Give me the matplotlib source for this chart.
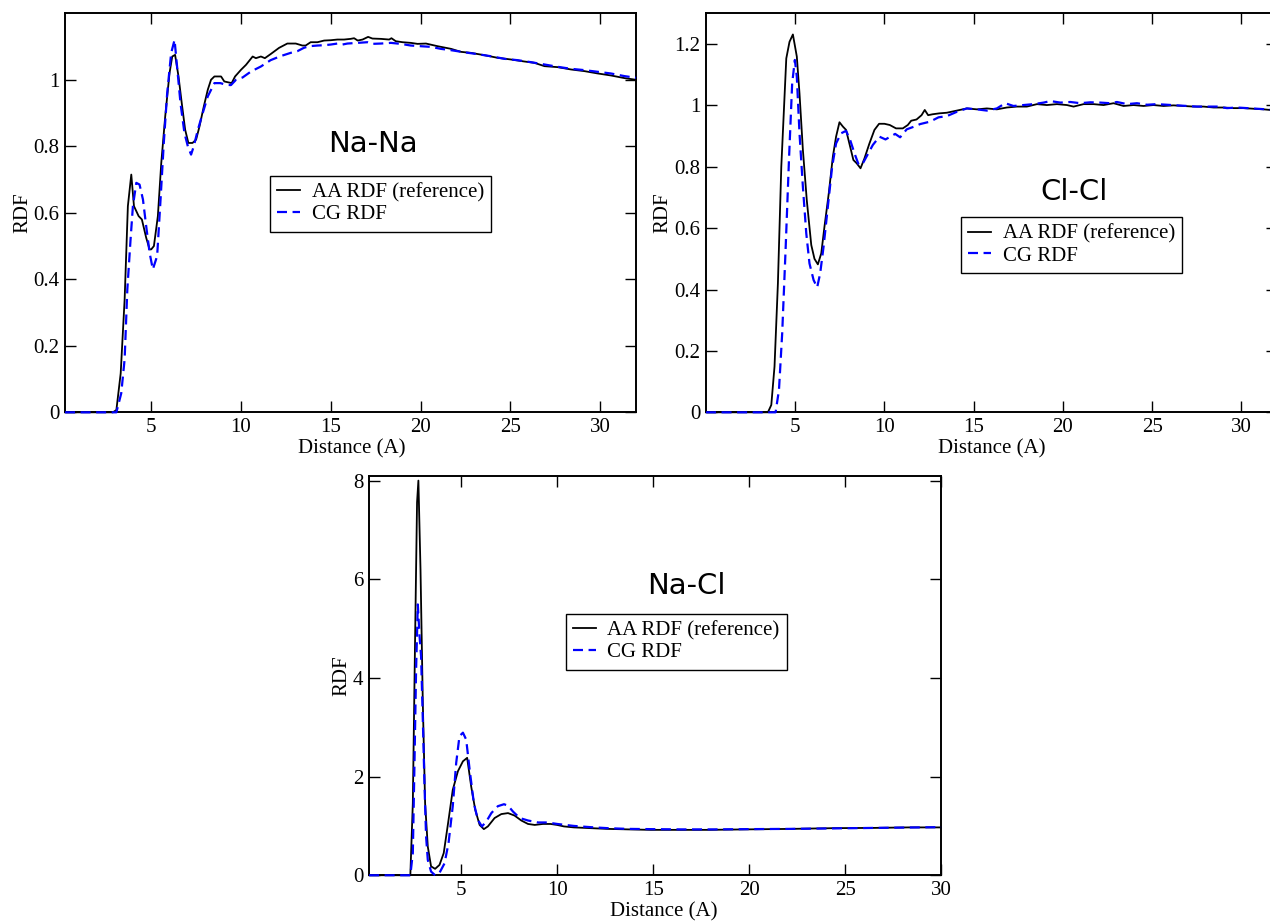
import matplotlib
matplotlib.use("Agg")
import matplotlib.pyplot as plt
from matplotlib.ticker import FormatStrFormatter

plt.rcParams['font.family'] = ['Liberation Serif', 'DejaVu Serif']
plt.rcParams['font.size'] = 15

# ---- Na-Na ----
nana_aa_x = [0.2, 2.87, 3.06, 3.3, 3.52, 3.70, 3.89, 4.04, 4.3, 4.48, 4.72, 4.91, 5.0, 5.15, 5.37,
             5.56, 5.78, 6.02, 6.17, 6.33, 6.52, 6.7, 6.89, 7.07, 7.3, 7.5, 7.69, 7.93, 8.15, 8.33,
             8.52, 8.89, 9.07, 9.48, 9.67, 10.0, 10.28, 10.65, 10.83, 11.11, 11.33, 11.67, 12.12,
             12.58, 13.05, 13.42, 13.6, 13.88, 14.26, 14.63, 15.0, 15.37, 15.74, 16.1, 16.3, 16.5,
             16.77, 17.08, 17.32, 17.8, 18.25, 18.38, 18.62, 19.0, 19.46, 19.83, 20.3, 20.95, 21.7,
             22.25, 22.8, 23.55, 24.3, 25.04, 25.78, 26.34, 26.9, 27.64, 28.38, 29.13, 29.87, 30.6,
             31.36, 32.0]
nana_aa_y = [0, 0, 0.007, 0.117, 0.34, 0.62, 0.715, 0.62, 0.59, 0.58, 0.525, 0.49, 0.49, 0.50, 0.59,
             0.75, 0.89, 1.02, 1.07, 1.075, 1.01, 0.93, 0.85, 0.81, 0.81, 0.82, 0.86, 0.92, 0.97, 1.0,
             1.01, 1.01, 0.995, 0.99, 1.01, 1.03, 1.045, 1.07, 1.065, 1.07, 1.065, 1.078, 1.096,
             1.109, 1.109, 1.103, 1.103, 1.113, 1.113, 1.118, 1.119, 1.121, 1.121, 1.123, 1.125, 1.118,
             1.121, 1.129, 1.124, 1.123, 1.121, 1.125, 1.116, 1.113, 1.111, 1.108, 1.109, 1.101, 1.093,
             1.084, 1.081, 1.074, 1.066, 1.061, 1.055, 1.051, 1.041, 1.038, 1.031, 1.026, 1.019, 1.013,
             1.005, 1.0]
nana_cg_x = [0.2, 3.06, 3.33, 3.52, 3.67, 3.85, 3.98, 4.17, 4.35, 4.54, 4.72, 4.91, 5.09, 5.33, 5.52,
             5.7, 5.89, 6.11, 6.3, 6.44, 6.63, 6.85, 7.04, 7.22, 7.37, 7.6, 7.87, 8.15, 8.52, 8.85,
             9.17, 9.44, 9.72, 10.09, 10.56, 11.11, 11.65, 12.2, 12.77, 13.14, 13.5, 13.8, 14.26,
             14.63, 15.0, 15.37, 15.65, 15.93, 16.5, 17.04, 17.3, 17.8, 18.35, 18.9, 19.46, 20.0,
             20.58, 21.13, 21.7, 22.4, 23.18, 23.9, 24.68, 25.4, 26.15, 26.9, 27.64, 28.38, 29.13,
             29.87, 30.6, 31.36, 32.0]
nana_cg_y = [0, 0, 0.057, 0.16, 0.37, 0.52, 0.62, 0.69, 0.685, 0.64, 0.56, 0.48, 0.43, 0.47, 0.64,
             0.81, 0.96, 1.08, 1.12, 1.04, 0.93, 0.84, 0.80, 0.775, 0.80, 0.85, 0.90, 0.95, 0.99, 0.99,
             0.985, 0.984, 1.0, 1.007, 1.025, 1.04, 1.059, 1.071, 1.081, 1.086, 1.096, 1.101, 1.103,
             1.104, 1.106, 1.109, 1.106, 1.109, 1.111, 1.113, 1.108, 1.109, 1.111, 1.108, 1.103, 1.101,
             1.099, 1.093, 1.089, 1.083, 1.077, 1.071, 1.063, 1.059, 1.053, 1.046, 1.039, 1.033, 1.029,
             1.024, 1.019, 1.011, 1.006]

# ---- Cl-Cl ----
clcl_aa_x = [0.0, 3.47, 3.66, 3.84, 4.03, 4.22, 4.5, 4.68, 4.87, 5.09, 5.24, 5.43, 5.65, 5.9, 6.08,
             6.27, 6.46, 6.64, 6.88, 7.11, 7.29, 7.48, 7.67, 7.85, 8.08, 8.26, 8.45, 8.66, 8.88, 9.16,
             9.44, 9.7, 10.0, 10.3, 10.65, 11.03, 11.31, 11.5, 11.8, 12.08, 12.26, 12.45, 12.7, 13.08,
             13.5, 14.06, 14.62, 15.18, 15.74, 16.3, 16.86, 17.42, 17.98, 18.55, 19.1, 19.67, 20.23,
             20.6, 21.16, 21.72, 22.28, 22.84, 23.4, 23.96, 24.52, 25.08, 25.64, 26.2, 26.77, 27.33,
             27.89, 28.45, 29.0, 29.57, 30.13, 30.69, 31.25, 31.63, 32.0]
clcl_aa_y = [0, 0, 0.024, 0.149, 0.42, 0.80, 1.153, 1.207, 1.231, 1.159, 1.039, 0.855, 0.69, 0.545, 0.50,
             0.482, 0.518, 0.605, 0.713, 0.833, 0.898, 0.945, 0.931, 0.92, 0.865, 0.822, 0.811, 0.795,
             0.827, 0.876, 0.92, 0.94, 0.94, 0.936, 0.925, 0.925, 0.936, 0.95, 0.954, 0.968, 0.985,
             0.968, 0.971, 0.974, 0.976, 0.983, 0.99, 0.987, 0.99, 0.987, 0.993, 0.996, 0.996, 1.004,
             1.001, 1.004, 1.001, 0.996, 1.004, 1.004, 1.001, 1.007, 0.998, 1.001, 0.998, 1.001, 0.998,
             1.0, 0.998, 0.996, 0.996, 0.993, 0.993, 0.991, 0.991, 0.989, 0.987, 0.985, 0.984]
clcl_cg_x = [0.0, 3.9, 4.09, 4.27, 4.46, 4.65, 4.83, 4.98, 5.09, 5.24, 5.43, 5.62, 5.8, 6.03, 6.23,
             6.4, 6.59, 6.83, 7.07, 7.29, 7.57, 7.85, 8.08, 8.32, 8.56, 8.79, 9.07, 9.35, 9.72, 10.06,
             10.6, 10.88, 11.25, 11.63, 12.0, 12.56, 13.03, 13.5, 14.06, 14.62, 15.18, 15.74, 16.3,
             16.77, 17.23, 17.79, 18.36, 18.92, 19.3, 19.86, 20.42, 20.98, 21.54, 22.1, 22.66, 23.03,
             23.6, 24.15, 24.71, 25.27, 25.83, 26.4, 26.96, 27.52, 28.08, 28.64, 29.2, 29.76, 30.32,
             30.88, 31.44, 32.0]
clcl_cg_y = [0, 0, 0.073, 0.257, 0.529, 0.822, 1.072, 1.148, 1.093, 0.909, 0.735, 0.583, 0.485, 0.431,
             0.407, 0.453, 0.54, 0.67, 0.80, 0.876, 0.909, 0.917, 0.887, 0.844, 0.806, 0.811, 0.841,
             0.871, 0.898, 0.889, 0.907, 0.896, 0.922, 0.93, 0.939, 0.947, 0.961, 0.965, 0.979, 0.99,
             0.987, 0.983, 0.99, 1.007, 0.998, 1.001, 1.004, 1.009, 1.014, 1.009, 1.011, 1.007, 1.01,
             1.009, 1.007, 1.011, 1.004, 1.007, 1.002, 1.004, 1.002, 1.0, 0.998, 0.996, 0.996, 0.996,
             0.991, 0.993, 0.991, 0.989, 0.987, 0.985]

# ---- Na-Cl ----
nacl_aa_x = [0.2, 2.35, 2.48, 2.6, 2.7, 2.77, 2.88, 3.0, 3.12, 3.26, 3.43, 3.64, 3.87, 4.09, 4.34,
             4.56, 4.83, 5.09, 5.31, 5.52, 5.73, 5.96, 6.18, 6.39, 6.74, 7.09, 7.44, 7.78, 8.13, 8.48,
             8.83, 9.26, 9.65, 10.0, 10.35, 10.87, 11.74, 12.61, 13.66, 14.88, 16.1, 17.84, 19.93,
             22.2, 24.46, 26.55, 28.3, 30.0]
nacl_aa_y = [0, 0, 1.46, 4.85, 7.56, 8.0, 6.2, 3.5, 1.46, 0.58, 0.18, 0.13, 0.21, 0.45, 1.12, 1.73,
             2.11, 2.31, 2.38, 1.80, 1.33, 1.02, 0.935, 0.99, 1.16, 1.24, 1.26, 1.21, 1.11, 1.04, 1.02,
             1.04, 1.04, 1.02, 0.99, 0.97, 0.955, 0.94, 0.93, 0.92, 0.92, 0.92, 0.93, 0.94, 0.955, 0.96,
             0.97, 0.97]
nacl_cg_x = [0.2, 2.35, 2.48, 2.56, 2.65, 2.74, 2.83, 2.91, 3.0, 3.09, 3.17, 3.26, 3.43, 3.64, 3.87,
             4.13, 4.34, 4.56, 4.74, 4.91, 5.09, 5.26, 5.44, 5.66, 5.87, 6.08, 6.31, 6.57, 6.91, 7.23,
             7.44, 7.7, 8.05, 8.48, 9.0, 9.48, 10.0, 10.87, 11.74, 12.61, 13.66, 14.88, 16.45, 18.19,
             19.93, 22.2, 24.46, 26.55, 30.0]
nacl_cg_y = [0, 0, 0.45, 2.14, 4.17, 5.49, 4.85, 4.44, 3.16, 1.8, 0.79, 0.31, 0.075, 0.0, 0.05, 0.24,
             0.65, 1.4, 2.28, 2.82, 2.89, 2.75, 2.14, 1.46, 1.12, 0.99, 1.09, 1.26, 1.40, 1.44, 1.41,
             1.29, 1.16, 1.11, 1.07, 1.07, 1.04, 1.0, 0.975, 0.955, 0.94, 0.935, 0.93, 0.93, 0.935, 0.94,
             0.95, 0.96, 0.975]

x_ticks = [5, 10, 15, 20, 25, 30]

fig = plt.figure(figsize=(12.7, 9.22), dpi=100)

panels = [
    # rect, data, xlim, ylim, yticks, title, title pos (axes), legend anchor (fig), label x positions
    ([0.0512, 0.5528, 0.4496, 0.4328], (nana_aa_x, nana_aa_y, nana_cg_x, nana_cg_y),
     (0.2, 32), (0, 1.2), [0, 0.2, 0.4, 0.6, 0.8, 1.0], "Na-Na", (0.539, 0.672),
     (0.2126, 0.8094), 0.502, -0.0744),
    ([0.5559, 0.5528, 0.4496, 0.4328], (clcl_aa_x, clcl_aa_y, clcl_cg_x, clcl_cg_y),
     (0.0, 32), (0, 1.3), [0, 0.2, 0.4, 0.6, 0.8, 1.0, 1.2], "Cl-Cl", (0.645, 0.552),
     (0.7567, 0.7646), 0.5, -0.0748),
    ([0.2906, 0.0507, 0.4504, 0.4334], (nacl_aa_x, nacl_aa_y, nacl_cg_x, nacl_cg_y),
     (0.2, 30), (0, 8.1), [0, 2, 4, 6, 8], "Na-Cl", (0.554, 0.724),
     (0.4453, 0.3344), 0.516, -0.048),
]

for rect, (ax_, ay_, cx_, cy_), xl, yl, yt, title, tpos, lpos, xlx, ylx in panels:
    ax = fig.add_axes(rect)
    ax.plot(ax_, ay_, color='black', lw=1.3, label='AA RDF (reference)', zorder=3, clip_on=False)
    ax.plot(cx_, cy_, color='blue', lw=1.6, linestyle=(0, (4.5, 2.5)), label='CG RDF',
            zorder=4, clip_on=False)
    ax.set_xlim(*xl)
    ax.set_ylim(*yl)
    ax.set_xticks(x_ticks)
    ax.set_yticks(yt)
    ax.yaxis.set_major_formatter(FormatStrFormatter('%g'))
    ax.tick_params(direction='in', top=True, right=True, length=8, width=1.0, pad=4, labelsize=15)
    for sp in ax.spines.values():
        sp.set_linewidth(1.4)
    ax.set_xlabel('Distance (A)', fontsize=15)
    ax.set_ylabel('RDF', fontsize=15)
    ax.xaxis.set_label_coords(xlx, -0.092)
    ax.xaxis.label.set_va('center')
    ax.yaxis.set_label_coords(ylx, 0.5)
    ax.yaxis.label.set_va('center')
    ax.text(tpos[0], tpos[1], title, transform=ax.transAxes, ha='center', va='center',
            fontsize=21, family='DejaVu Sans')
    leg = ax.legend(loc='upper left', bbox_to_anchor=lpos, bbox_transform=fig.transFigure,
                    fancybox=False, framealpha=1, edgecolor='black', fontsize=15,
                    handlelength=1.1, handletextpad=0.55, borderpad=0.35, labelspacing=0.1,
                    borderaxespad=0)
    leg.get_frame().set_linewidth(1.0)
    leg.set_zorder(5)

fig.savefig('out.png', dpi=100)
